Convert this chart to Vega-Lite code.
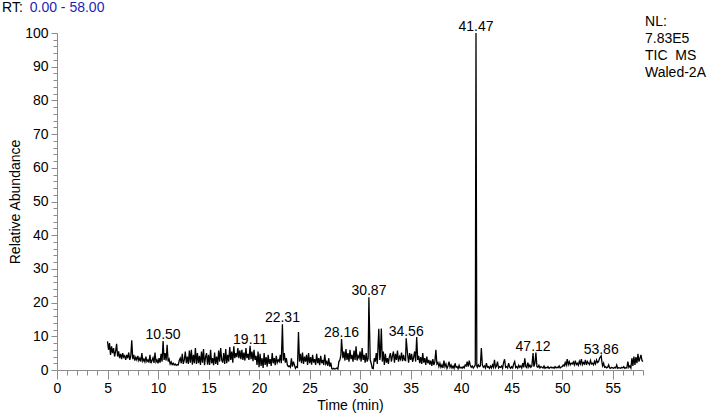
{
"$schema": "https://vega.github.io/schema/vega-lite/v6.json",
"width": 586, "height": 337,
"autosize": "none",
"padding": {"left": 57, "top": 33, "right": 65, "bottom": 45},
"background": "white",
"config": {"view": {"stroke": null}, "font": "Liberation Sans"},
"datasets": {
"tic": [
{"t":5.0,"y":8.5},{"t":5.1,"y":6.0},{"t":5.2,"y":8.0},{"t":5.3,"y":4.5},{"t":5.4,"y":7.0},{"t":5.5,"y":5.0},{"t":5.6,"y":6.5},{"t":5.7,"y":4.0},{"t":5.8,"y":5.5},{"t":5.9,"y":7.8},
{"t":6.0,"y":4.0},{"t":6.1,"y":5.5},{"t":6.2,"y":3.5},{"t":6.3,"y":4.8},{"t":6.4,"y":3.2},{"t":6.5,"y":5.0},{"t":6.6,"y":3.8},{"t":6.7,"y":4.2},{"t":6.8,"y":3.0},{"t":6.9,"y":4.5},
{"t":7.0,"y":3.5},{"t":7.1,"y":5.2},{"t":7.2,"y":3.0},{"t":7.3,"y":4.0},{"t":7.4,"y":8.8},{"t":7.5,"y":3.2},{"t":7.6,"y":4.5},{"t":7.7,"y":2.8},{"t":7.8,"y":3.8},{"t":7.9,"y":3.0},
{"t":8.0,"y":4.2},{"t":8.1,"y":2.8},{"t":8.2,"y":3.5},{"t":8.3,"y":2.5},{"t":8.4,"y":5.0},{"t":8.5,"y":2.6},{"t":8.6,"y":3.2},{"t":8.7,"y":2.4},{"t":8.8,"y":4.0},{"t":8.9,"y":2.5},
{"t":9.0,"y":3.0},{"t":9.1,"y":2.2},{"t":9.2,"y":4.5},{"t":9.3,"y":2.0},{"t":9.4,"y":2.8},{"t":9.5,"y":3.6},{"t":9.6,"y":2.1},{"t":9.7,"y":5.2},{"t":9.8,"y":2.4},{"t":9.9,"y":3.0},
{"t":10.0,"y":2.0},{"t":10.1,"y":3.5},{"t":10.2,"y":2.2},{"t":10.3,"y":4.8},{"t":10.4,"y":2.5},{"t":10.5,"y":8.6},{"t":10.6,"y":3.0},{"t":10.7,"y":5.0},{"t":10.8,"y":2.8},{"t":10.9,"y":7.5},
{"t":11.0,"y":2.5},{"t":11.1,"y":3.2},{"t":11.2,"y":1.8},{"t":11.3,"y":2.4},{"t":11.4,"y":1.6},{"t":11.5,"y":2.0},{"t":11.6,"y":1.5},{"t":11.7,"y":1.8},{"t":11.8,"y":1.4},{"t":11.9,"y":1.6},
{"t":12.0,"y":1.5},{"t":12.1,"y":2.8},{"t":12.2,"y":3.5},{"t":12.3,"y":2.0},{"t":12.4,"y":4.8},{"t":12.5,"y":1.8},{"t":12.6,"y":3.0},{"t":12.7,"y":5.5},{"t":12.8,"y":2.0},{"t":12.9,"y":4.0},
{"t":13.0,"y":1.8},{"t":13.1,"y":5.8},{"t":13.2,"y":2.2},{"t":13.3,"y":6.0},{"t":13.4,"y":1.6},{"t":13.5,"y":4.5},{"t":13.6,"y":2.0},{"t":13.7,"y":6.5},{"t":13.8,"y":1.8},{"t":13.9,"y":5.0},
{"t":14.0,"y":2.0},{"t":14.1,"y":4.2},{"t":14.2,"y":1.5},{"t":14.3,"y":5.5},{"t":14.4,"y":2.2},{"t":14.5,"y":6.2},{"t":14.6,"y":1.4},{"t":14.7,"y":3.8},{"t":14.8,"y":5.0},{"t":14.9,"y":1.6},
{"t":15.0,"y":4.5},{"t":15.1,"y":1.5},{"t":15.2,"y":6.0},{"t":15.3,"y":2.0},{"t":15.4,"y":3.5},{"t":15.5,"y":1.4},{"t":15.6,"y":5.2},{"t":15.7,"y":1.8},{"t":15.8,"y":4.0},{"t":15.9,"y":1.5},
{"t":16.0,"y":5.8},{"t":16.1,"y":2.5},{"t":16.2,"y":6.5},{"t":16.3,"y":3.0},{"t":16.4,"y":2.2},{"t":16.5,"y":5.0},{"t":16.6,"y":1.8},{"t":16.7,"y":6.2},{"t":16.8,"y":2.0},{"t":16.9,"y":4.5},
{"t":17.0,"y":2.5},{"t":17.1,"y":6.8},{"t":17.2,"y":3.0},{"t":17.3,"y":5.5},{"t":17.4,"y":2.2},{"t":17.5,"y":7.0},{"t":17.6,"y":3.5},{"t":17.7,"y":5.0},{"t":17.8,"y":3.8},{"t":17.9,"y":6.5},
{"t":18.0,"y":3.5},{"t":18.1,"y":5.8},{"t":18.2,"y":3.2},{"t":18.3,"y":6.0},{"t":18.4,"y":3.0},{"t":18.5,"y":5.2},{"t":18.6,"y":2.8},{"t":18.7,"y":6.5},{"t":18.8,"y":3.5},{"t":18.9,"y":4.8},
{"t":19.0,"y":3.0},{"t":19.11,"y":7.2},{"t":19.2,"y":3.2},{"t":19.3,"y":5.5},{"t":19.4,"y":2.6},{"t":19.5,"y":6.0},{"t":19.6,"y":3.0},{"t":19.7,"y":4.2},{"t":19.8,"y":1.5},{"t":19.9,"y":5.5},
{"t":20.0,"y":0.8},{"t":20.1,"y":4.8},{"t":20.2,"y":1.2},{"t":20.3,"y":3.5},{"t":20.4,"y":0.6},{"t":20.5,"y":5.0},{"t":20.6,"y":1.5},{"t":20.7,"y":3.8},{"t":20.8,"y":1.0},{"t":20.9,"y":4.5},
{"t":21.0,"y":1.8},{"t":21.1,"y":3.2},{"t":21.2,"y":1.2},{"t":21.3,"y":5.0},{"t":21.4,"y":2.0},{"t":21.5,"y":3.5},{"t":21.6,"y":1.4},{"t":21.7,"y":4.2},{"t":21.8,"y":2.2},{"t":21.9,"y":3.0},
{"t":22.0,"y":2.5},{"t":22.1,"y":4.5},{"t":22.2,"y":2.0},{"t":22.31,"y":13.6},{"t":22.4,"y":2.8},{"t":22.5,"y":5.0},{"t":22.6,"y":2.2},{"t":22.7,"y":3.5},{"t":22.8,"y":1.5},{"t":22.9,"y":1.0},
{"t":23.0,"y":1.2},{"t":23.1,"y":0.8},{"t":23.2,"y":3.5},{"t":23.3,"y":1.0},{"t":23.4,"y":2.5},{"t":23.5,"y":1.5},{"t":23.6,"y":0.5},{"t":23.7,"y":1.0},{"t":23.8,"y":0.8},{"t":23.9,"y":11.3},
{"t":24.0,"y":2.5},{"t":24.1,"y":4.8},{"t":24.2,"y":2.0},{"t":24.3,"y":5.2},{"t":24.4,"y":1.8},{"t":24.5,"y":4.0},{"t":24.6,"y":2.5},{"t":24.7,"y":4.5},{"t":24.8,"y":1.5},{"t":24.9,"y":5.0},
{"t":25.0,"y":2.0},{"t":25.1,"y":3.8},{"t":25.2,"y":1.6},{"t":25.3,"y":4.5},{"t":25.4,"y":2.2},{"t":25.5,"y":3.2},{"t":25.6,"y":1.5},{"t":25.7,"y":4.8},{"t":25.8,"y":2.0},{"t":25.9,"y":3.5},
{"t":26.0,"y":1.4},{"t":26.1,"y":4.2},{"t":26.2,"y":2.0},{"t":26.3,"y":3.0},{"t":26.4,"y":1.5},{"t":26.5,"y":4.6},{"t":26.6,"y":1.8},{"t":26.7,"y":2.5},{"t":26.8,"y":1.2},{"t":26.9,"y":3.5},
{"t":27.0,"y":1.0},{"t":27.1,"y":2.2},{"t":27.2,"y":0.4},{"t":27.3,"y":0.3},{"t":27.4,"y":0.5},{"t":27.5,"y":0.3},{"t":27.6,"y":0.4},{"t":27.7,"y":0.6},{"t":27.8,"y":0.3},{"t":27.9,"y":2.5},
{"t":28.0,"y":3.0},{"t":28.1,"y":4.5},{"t":28.16,"y":9.2},{"t":28.3,"y":3.5},{"t":28.4,"y":5.5},{"t":28.5,"y":2.8},{"t":28.6,"y":6.2},{"t":28.7,"y":3.0},{"t":28.8,"y":5.0},{"t":28.9,"y":2.5},
{"t":29.0,"y":6.0},{"t":29.1,"y":3.2},{"t":29.2,"y":4.5},{"t":29.3,"y":2.5},{"t":29.4,"y":5.8},{"t":29.5,"y":3.0},{"t":29.6,"y":7.0},{"t":29.7,"y":2.8},{"t":29.8,"y":4.2},{"t":29.9,"y":3.5},
{"t":30.0,"y":5.5},{"t":30.1,"y":2.5},{"t":30.2,"y":6.5},{"t":30.3,"y":3.0},{"t":30.4,"y":4.5},{"t":30.5,"y":2.2},{"t":30.6,"y":5.0},{"t":30.7,"y":2.5},{"t":30.8,"y":3.5},{"t":30.87,"y":21.6},
{"t":31.0,"y":3.0},{"t":31.1,"y":2.0},{"t":31.2,"y":0.5},{"t":31.3,"y":0.4},{"t":31.4,"y":3.5},{"t":31.5,"y":2.5},{"t":31.6,"y":5.0},{"t":31.7,"y":1.8},{"t":31.85,"y":12.2},{"t":31.95,"y":3.0},
{"t":32.0,"y":4.0},{"t":32.1,"y":12.3},{"t":32.2,"y":2.5},{"t":32.3,"y":5.5},{"t":32.4,"y":1.5},{"t":32.5,"y":4.8},{"t":32.6,"y":2.2},{"t":32.7,"y":3.5},{"t":32.8,"y":1.8},{"t":32.9,"y":4.0},
{"t":33.0,"y":5.0},{"t":33.1,"y":2.5},{"t":33.2,"y":4.2},{"t":33.3,"y":5.5},{"t":33.4,"y":2.2},{"t":33.5,"y":4.8},{"t":33.6,"y":3.0},{"t":33.7,"y":5.8},{"t":33.8,"y":2.5},{"t":33.9,"y":4.0},
{"t":34.0,"y":3.2},{"t":34.1,"y":5.2},{"t":34.2,"y":2.6},{"t":34.3,"y":4.5},{"t":34.4,"y":3.0},{"t":34.5,"y":2.8},{"t":34.56,"y":9.4},{"t":34.7,"y":4.6},{"t":34.8,"y":2.2},{"t":34.9,"y":5.0},
{"t":35.0,"y":3.0},{"t":35.1,"y":4.8},{"t":35.2,"y":2.4},{"t":35.3,"y":3.8},{"t":35.4,"y":5.5},{"t":35.5,"y":2.5},{"t":35.6,"y":9.8},{"t":35.7,"y":3.0},{"t":35.8,"y":4.2},{"t":35.9,"y":2.0},
{"t":36.0,"y":3.8},{"t":36.1,"y":1.8},{"t":36.2,"y":5.0},{"t":36.3,"y":2.2},{"t":36.4,"y":3.5},{"t":36.5,"y":1.5},{"t":36.6,"y":4.0},{"t":36.7,"y":2.0},{"t":36.8,"y":3.0},{"t":36.9,"y":1.6},
{"t":37.0,"y":2.8},{"t":37.1,"y":1.2},{"t":37.2,"y":3.2},{"t":37.3,"y":1.5},{"t":37.4,"y":2.5},{"t":37.5,"y":6.0},{"t":37.6,"y":1.8},{"t":37.7,"y":2.2},{"t":37.8,"y":1.0},{"t":37.9,"y":2.0},
{"t":38.0,"y":0.8},{"t":38.1,"y":1.5},{"t":38.2,"y":0.6},{"t":38.3,"y":2.8},{"t":38.4,"y":1.0},{"t":38.5,"y":1.8},{"t":38.6,"y":0.5},{"t":38.7,"y":1.2},{"t":38.8,"y":2.5},{"t":38.9,"y":0.8},
{"t":39.0,"y":1.5},{"t":39.1,"y":0.6},{"t":39.2,"y":1.2},{"t":39.3,"y":0.5},{"t":39.4,"y":2.0},{"t":39.5,"y":0.8},{"t":39.6,"y":1.0},{"t":39.7,"y":0.4},{"t":39.8,"y":1.4},{"t":39.9,"y":0.6},
{"t":40.0,"y":0.8},{"t":40.1,"y":0.5},{"t":40.2,"y":1.0},{"t":40.3,"y":0.6},{"t":40.4,"y":1.5},{"t":40.5,"y":1.2},{"t":40.6,"y":2.5},{"t":40.7,"y":1.0},{"t":40.8,"y":2.8},{"t":40.9,"y":1.5},
{"t":41.0,"y":0.8},{"t":41.1,"y":1.2},{"t":41.2,"y":0.6},{"t":41.3,"y":1.0},{"t":41.4,"y":1.5},{"t":41.47,"y":100},{"t":41.55,"y":1.2},{"t":41.6,"y":0.8},{"t":41.7,"y":1.5},{"t":41.8,"y":1.0},{"t":41.9,"y":1.2},
{"t":42.0,"y":6.5},{"t":42.1,"y":1.5},{"t":42.2,"y":0.8},{"t":42.3,"y":1.2},{"t":42.4,"y":0.6},{"t":42.5,"y":2.0},{"t":42.6,"y":0.8},{"t":42.7,"y":1.0},{"t":42.8,"y":0.5},{"t":42.9,"y":1.2},
{"t":43.0,"y":0.6},{"t":43.1,"y":1.5},{"t":43.2,"y":0.8},{"t":43.3,"y":3.0},{"t":43.4,"y":0.7},{"t":43.5,"y":1.2},{"t":43.6,"y":2.5},{"t":43.7,"y":0.6},{"t":43.8,"y":1.0},{"t":43.9,"y":0.8},
{"t":44.0,"y":1.2},{"t":44.1,"y":0.5},{"t":44.2,"y":2.2},{"t":44.3,"y":3.2},{"t":44.4,"y":0.8},{"t":44.5,"y":1.0},{"t":44.6,"y":0.6},{"t":44.7,"y":2.0},{"t":44.8,"y":0.9},{"t":44.9,"y":0.5},
{"t":45.0,"y":1.0},{"t":45.1,"y":0.6},{"t":45.2,"y":1.8},{"t":45.3,"y":2.5},{"t":45.4,"y":0.7},{"t":45.5,"y":1.0},{"t":45.6,"y":0.5},{"t":45.7,"y":1.4},{"t":45.8,"y":0.8},{"t":45.9,"y":1.2},
{"t":46.0,"y":0.6},{"t":46.1,"y":2.0},{"t":46.2,"y":0.8},{"t":46.3,"y":3.5},{"t":46.4,"y":1.0},{"t":46.5,"y":0.7},{"t":46.6,"y":2.2},{"t":46.7,"y":0.9},{"t":46.8,"y":1.5},{"t":46.9,"y":0.8},
{"t":47.0,"y":1.2},{"t":47.12,"y":5.0},{"t":47.2,"y":1.0},{"t":47.3,"y":2.0},{"t":47.4,"y":5.2},{"t":47.5,"y":1.0},{"t":47.6,"y":0.8},{"t":47.7,"y":1.4},{"t":47.8,"y":0.6},{"t":47.9,"y":1.0},
{"t":48.0,"y":0.8},{"t":48.1,"y":0.6},{"t":48.2,"y":1.2},{"t":48.3,"y":0.5},{"t":48.4,"y":0.8},{"t":48.5,"y":0.6},{"t":48.6,"y":1.0},{"t":48.7,"y":0.5},{"t":48.8,"y":0.7},{"t":48.9,"y":0.9},
{"t":49.0,"y":0.6},{"t":49.1,"y":0.8},{"t":49.2,"y":0.5},{"t":49.3,"y":1.0},{"t":49.4,"y":0.6},{"t":49.5,"y":0.8},{"t":49.6,"y":0.7},{"t":49.7,"y":1.2},{"t":49.8,"y":0.6},{"t":49.9,"y":0.9},
{"t":50.0,"y":1.0},{"t":50.1,"y":1.5},{"t":50.2,"y":1.2},{"t":50.3,"y":2.2},{"t":50.4,"y":1.4},{"t":50.5,"y":3.2},{"t":50.6,"y":1.6},{"t":50.7,"y":2.5},{"t":50.8,"y":1.5},{"t":50.9,"y":2.0},
{"t":51.0,"y":1.8},{"t":51.1,"y":2.4},{"t":51.2,"y":1.5},{"t":51.3,"y":2.8},{"t":51.4,"y":1.6},{"t":51.5,"y":2.0},{"t":51.6,"y":1.4},{"t":51.7,"y":2.6},{"t":51.8,"y":1.8},{"t":51.9,"y":3.2},
{"t":52.0,"y":1.6},{"t":52.1,"y":2.2},{"t":52.2,"y":1.8},{"t":52.3,"y":3.0},{"t":52.4,"y":1.5},{"t":52.5,"y":2.5},{"t":52.6,"y":2.0},{"t":52.7,"y":1.6},{"t":52.8,"y":2.8},{"t":52.9,"y":1.8},
{"t":53.0,"y":2.0},{"t":53.1,"y":1.5},{"t":53.2,"y":2.6},{"t":53.3,"y":1.8},{"t":53.4,"y":3.0},{"t":53.5,"y":2.2},{"t":53.6,"y":2.5},{"t":53.7,"y":3.5},{"t":53.86,"y":4.2},{"t":53.95,"y":2.0},
{"t":54.0,"y":1.2},{"t":54.1,"y":2.0},{"t":54.2,"y":0.8},{"t":54.3,"y":1.0},{"t":54.4,"y":0.6},{"t":54.5,"y":0.8},{"t":54.6,"y":1.5},{"t":54.7,"y":0.6},{"t":54.8,"y":0.5},{"t":54.9,"y":0.8},
{"t":55.0,"y":0.6},{"t":55.1,"y":0.5},{"t":55.2,"y":0.8},{"t":55.3,"y":0.6},{"t":55.4,"y":1.5},{"t":55.5,"y":0.5},{"t":55.6,"y":0.7},{"t":55.7,"y":0.6},{"t":55.8,"y":0.5},{"t":55.9,"y":0.8},
{"t":56.0,"y":0.6},{"t":56.1,"y":1.0},{"t":56.2,"y":0.5},{"t":56.3,"y":0.7},{"t":56.4,"y":0.6},{"t":56.5,"y":2.5},{"t":56.6,"y":0.8},{"t":56.7,"y":1.2},{"t":56.8,"y":0.6},{"t":56.9,"y":3.5},
{"t":57.0,"y":1.2},{"t":57.1,"y":4.0},{"t":57.2,"y":1.5},{"t":57.3,"y":3.8},{"t":57.4,"y":2.0},{"t":57.5,"y":4.8},{"t":57.6,"y":2.5},{"t":57.7,"y":3.5},{"t":57.8,"y":4.5},{"t":57.9,"y":2.8},{"t":58.0,"y":2.5}
],
"peaks": [
{"t":10.5,"y":8.6,"label":"10.50"},{"t":19.11,"y":7.2,"label":"19.11"},{"t":22.31,"y":13.6,"label":"22.31"},
{"t":28.16,"y":9.2,"label":"28.16"},{"t":30.87,"y":21.6,"label":"30.87"},{"t":34.56,"y":9.4,"label":"34.56"},
{"t":41.47,"y":100,"label":"41.47"},{"t":47.12,"y":5.0,"label":"47.12"},{"t":53.86,"y":4.2,"label":"53.86"}
]
},
"layer": [
{
"data": {"name": "tic"},
"mark": {"type": "line", "color": "black", "strokeWidth": 1.3},
"encoding": {
"x": {"field": "t", "type": "quantitative", "scale": {"domain": [0, 58], "nice": false, "zero": false},
"axis": {"orient": "bottom", "values": [0,5,10,15,20,25,30,35,40,45,50,55], "tickSize": 9, "labelFontSize": 14, "labelColor": "black", "labelPadding": 2, "labelFlush": false, "domainColor": "#8c8c8c", "tickColor": "#8c8c8c", "grid": false, "title": "Time (min)", "titleFontSize": 14, "titleFontWeight": "normal", "titleColor": "black", "titlePadding": 3}},
"y": {"field": "y", "type": "quantitative", "scale": {"domain": [0, 100], "nice": false},
"axis": {"orient": "left", "values": [0,10,20,30,40,50,60,70,80,90,100], "tickSize": 6, "labelFontSize": 14, "labelColor": "black", "labelPadding": 3, "labelFlush": false, "domainColor": "#8c8c8c", "tickColor": "#8c8c8c", "grid": false, "title": "Relative Abundance", "titleFontSize": 14, "titleFontWeight": "normal", "titleColor": "black", "titlePadding": 2}}
}
},
{
"data": {"name": "peaks"},
"mark": {"type": "text", "fontSize": 14, "color": "black", "baseline": "alphabetic", "align": "center", "dy": -2},
"encoding": {
"x": {"field": "t", "type": "quantitative", "scale": {"domain": [0, 58], "nice": false, "zero": false},
"axis": {"orient": "bottom", "values": [1,2,3,4,6,7,8,9,11,12,13,14,16,17,18,19,21,22,23,24,26,27,28,29,31,32,33,34,36,37,38,39,41,42,43,44,46,47,48,49,51,52,53,54,56,57,58], "tickSize": 5, "labels": false, "domain": false, "tickColor": "#8c8c8c", "grid": false, "title": null}},
"y": {"field": "y", "type": "quantitative", "scale": {"domain": [0, 100], "nice": false},
"axis": {"orient": "left", "values": [2,4,6,8,12,14,16,18,22,24,26,28,32,34,36,38,42,44,46,48,52,54,56,58,62,64,66,68,72,74,76,78,82,84,86,88,92,94,96,98], "tickSize": 4, "labels": false, "domain": false, "tickColor": "#8c8c8c", "grid": false, "title": null}},
"text": {"field": "label"}
}
},
{
"data": {"values": [{}]},
"mark": {"type": "text", "fontSize": 14, "color": "black", "baseline": "top", "align": "left"},
"encoding": {
"x": {"datum": -5.44, "type": "quantitative", "scale": {"domain": [0, 58], "nice": false, "zero": false}, "axis": null},
"y": {"datum": 109.5, "type": "quantitative", "scale": {"domain": [0, 100], "nice": false}, "axis": null},
"text": {"value": "RT:"}
}
},
{
"data": {"values": [{}]},
"mark": {"type": "text", "fontSize": 14, "color": "#1f1fb4", "baseline": "top", "align": "left"},
"encoding": {
"x": {"datum": -2.7, "type": "quantitative", "scale": {"domain": [0, 58], "nice": false, "zero": false}, "axis": null},
"y": {"datum": 109.5, "type": "quantitative", "scale": {"domain": [0, 100], "nice": false}, "axis": null},
"text": {"value": "0.00 - 58.00"}
}
},
{
"data": {"values": [{}]},
"mark": {"type": "text", "fontSize": 14, "color": "black", "baseline": "top", "align": "left", "lineHeight": 16.8},
"encoding": {
"x": {"datum": 58.2, "type": "quantitative", "scale": {"domain": [0, 58], "nice": false, "zero": false}, "axis": null},
"y": {"datum": 105.2, "type": "quantitative", "scale": {"domain": [0, 100], "nice": false}, "axis": null},
"text": {"value": ["NL:", "7.83E5", "TIC\u00a0 MS", "Waled-2A"]}
}
}
],
"resolve": {"axis": {"x": "independent", "y": "independent"}}
}
